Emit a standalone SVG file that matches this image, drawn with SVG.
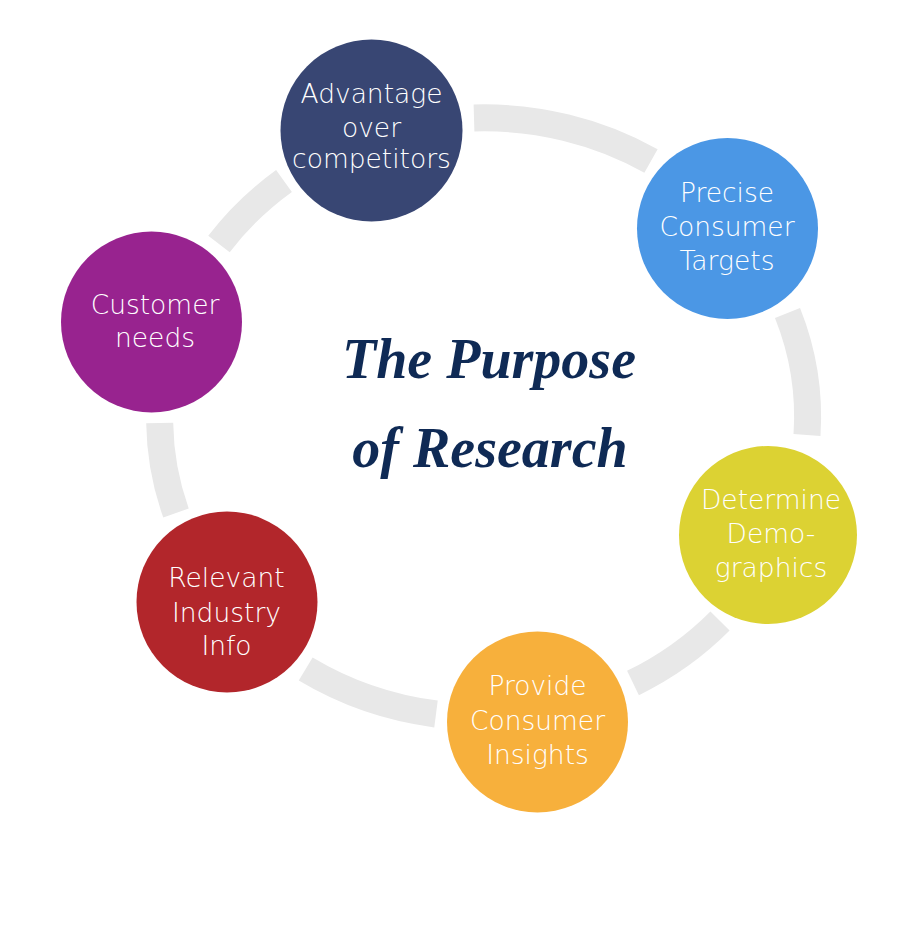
<svg xmlns="http://www.w3.org/2000/svg" width="920" height="929" viewBox="0 0 920 929">
<style>
.ring{fill:none;stroke:#E8E8E8;stroke-width:27;stroke-linecap:butt}
.lbl{font-family:"DejaVu Sans","Liberation Sans",sans-serif;font-weight:300;font-size:26.5px;fill:#FFFFFF;text-anchor:middle}
.title{font-family:"Liberation Serif","DejaVu Serif",serif;font-weight:bold;font-style:italic;font-size:56px;fill:#0F2A55;text-anchor:middle}
</style>
<rect width="920" height="929" fill="#FFFFFF"/>
<g id="connectors">
<path class="ring" d="M474,118 A322,298 0 0 1 651,161"/>
<path class="ring" d="M787.5,313 A322,298 0 0 1 807,435"/>
<path class="ring" d="M720,621 A322,298 0 0 1 633,683"/>
<path class="ring" d="M436,714 A322,298 0 0 1 305.7,669"/>
<path class="ring" d="M176,513 A322,298 0 0 1 159.7,423"/>
<path class="ring" d="M219,244 A322,298 0 0 1 284,181"/>
</g>
<g id="title">
<text class="title" x="489" y="378">The Purpose</text>
<text class="title" x="490" y="467">of Research</text>
</g>
<g id="advantage">
<circle cx="371.5" cy="130.5" r="91" fill="#384673"/>
<text class="lbl" x="371.5" y="103">Advantage</text>
<text class="lbl" x="371.5" y="136.5">over</text>
<text class="lbl" x="371.5" y="168">competitors</text>
</g>
<g id="precise">
<circle cx="727.5" cy="228.5" r="90.5" fill="#4B97E5"/>
<text class="lbl" x="727" y="201.5">Precise</text>
<text class="lbl" x="727" y="236">Consumer</text>
<text class="lbl" x="727" y="270">Targets</text>
</g>
<g id="determine">
<circle cx="768" cy="535" r="89" fill="#DCD233"/>
<text class="lbl" x="771" y="508.5">Determine</text>
<text class="lbl" x="771" y="543">Demo-</text>
<text class="lbl" x="771" y="577">graphics</text>
</g>
<g id="provide">
<circle cx="537.5" cy="722" r="90.5" fill="#F7B03C"/>
<text class="lbl" x="537.5" y="695">Provide</text>
<text class="lbl" x="537.5" y="730">Consumer</text>
<text class="lbl" x="537.5" y="764">Insights</text>
</g>
<g id="relevant">
<circle cx="227" cy="602" r="90.5" fill="#B2262B"/>
<text class="lbl" x="226.5" y="587">Relevant</text>
<text class="lbl" x="226.5" y="621.5">Industry</text>
<text class="lbl" x="226.5" y="655">Info</text>
</g>
<g id="customer">
<circle cx="151.5" cy="322" r="90.5" fill="#98238F"/>
<text class="lbl" x="155" y="313.5">Customer</text>
<text class="lbl" x="155" y="347">needs</text>
</g>
</svg>
